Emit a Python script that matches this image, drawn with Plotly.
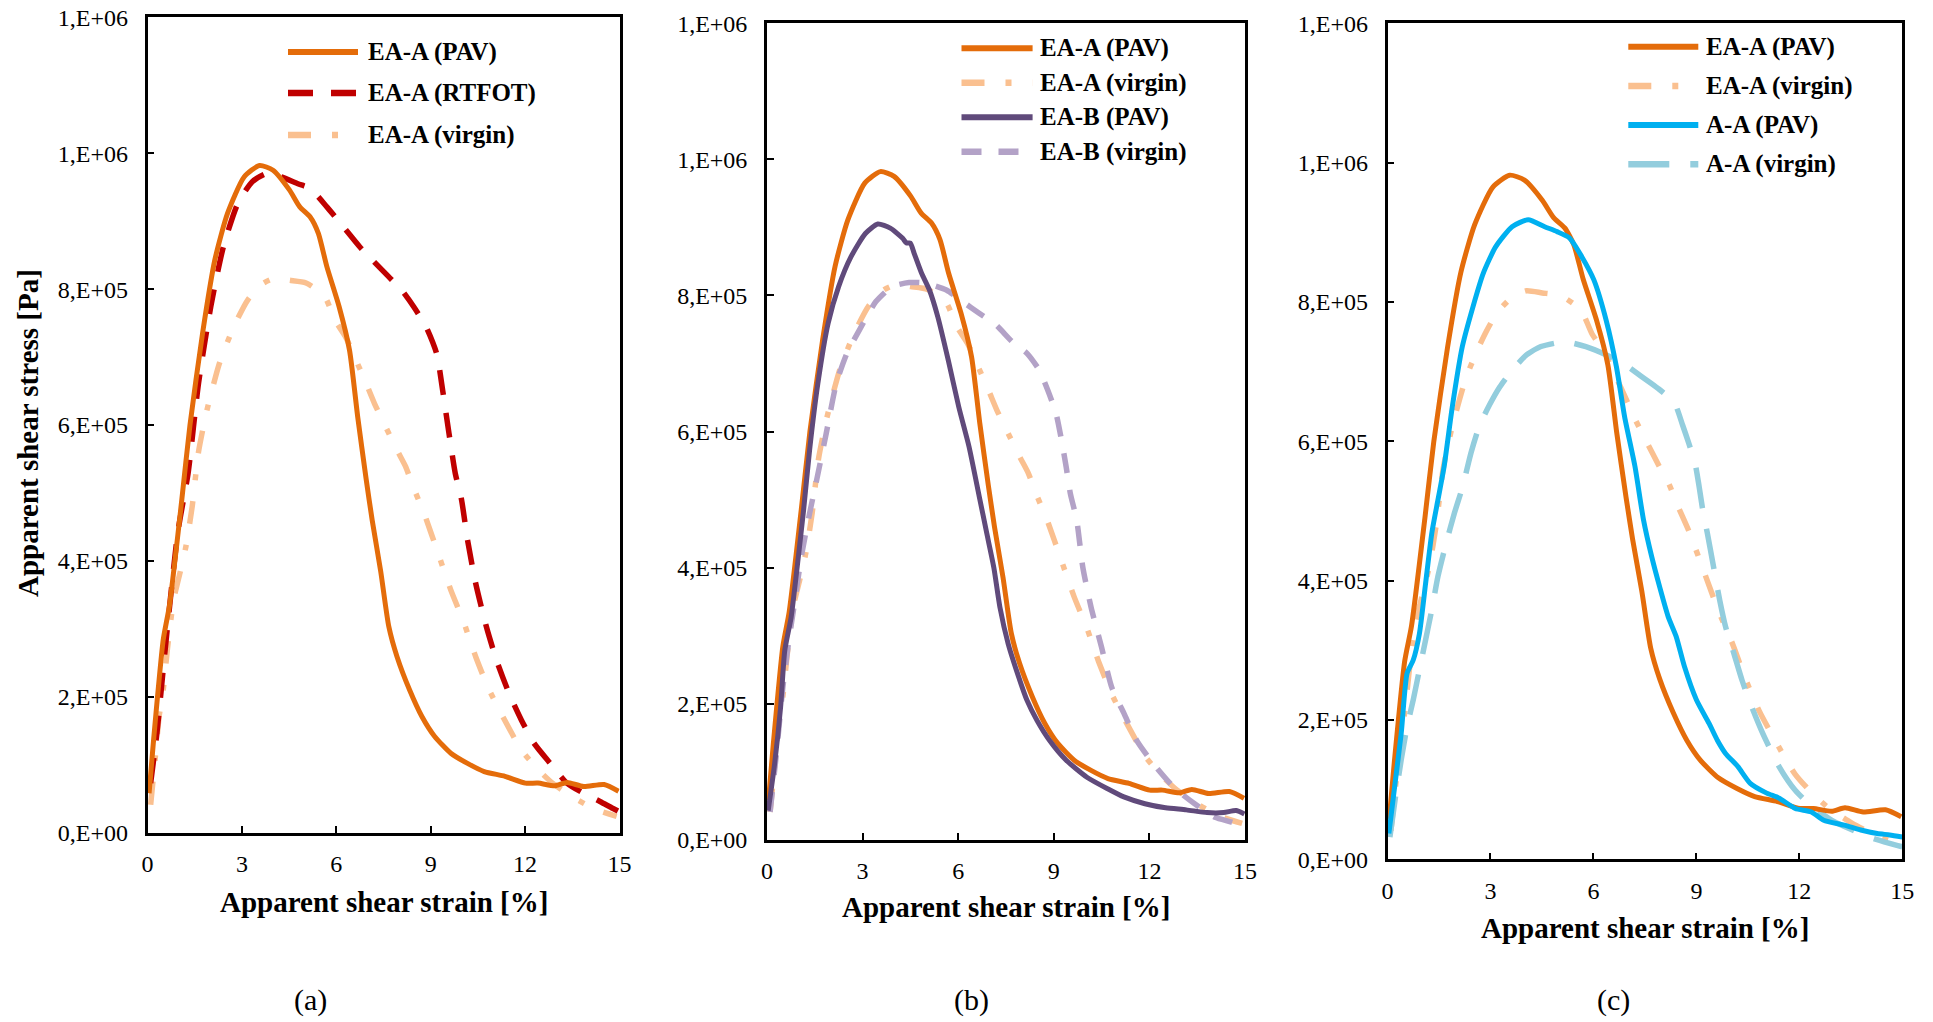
import plotly.graph_objects as go

# ---------------- data ----------------
strain_eaa_pav = [0.05, 0.2, 0.5, 0.7, 1.09, 1.35, 1.75, 2.14, 2.54, 3.07, 3.56, 3.99, 4.51, 4.84,
                  5.17, 5.43, 5.70, 6.09, 6.42, 6.68, 6.95, 7.14, 7.41, 7.67, 7.93, 8.33, 8.72,
                  9.12, 9.64, 10.17, 10.7, 11.36, 12.01, 12.41, 12.94, 13.33, 13.86, 14.51, 14.97]
stress_eaa_pav = [58e3, 140e3, 284e3, 335e3, 490e3, 600e3, 735e3, 843e3, 911e3, 965e3, 982e3,
                  975e3, 946e3, 921e3, 906e3, 882e3, 833e3, 774e3, 710e3, 612e3, 520e3, 460e3,
                  385e3, 303e3, 259e3, 210e3, 171e3, 142e3, 117e3, 102e3, 90e3, 83e3, 73e3,
                  73e3, 69e3, 74e3, 68e3, 71e3, 61e3]

strain_eaa_rtfot = [0.1, 0.3, 0.56, 0.96, 1.29, 1.62, 2.01, 2.41, 2.87, 3.33, 3.79, 4.25, 4.78,
                    5.17, 5.70, 6.22, 6.75, 7.14, 7.67, 8.07, 8.46, 8.85, 9.19, 9.38, 9.58, 9.78,
                    9.98, 10.17, 10.43, 10.77, 11.09, 11.49, 11.88, 12.28, 12.8, 13.33, 13.86,
                    14.38, 14.78, 14.95]
stress_eaa_rtfot = [73e3, 147e3, 269e3, 441e3, 529e3, 661e3, 774e3, 862e3, 926e3, 958e3, 970e3,
                    965e3, 955e3, 948e3, 921e3, 892e3, 862e3, 843e3, 818e3, 799e3, 774e3, 745e3,
                    705e3, 651e3, 588e3, 529e3, 490e3, 431e3, 367e3, 303e3, 254e3, 205e3, 166e3,
                    132e3, 102e3, 73e3, 58e3, 46e3, 36e3, 32e3]

strain_eaa_virgin = [0.1, 0.24, 0.37, 0.5, 0.63, 0.83, 1.03, 1.22, 1.42, 1.62, 1.88, 2.28, 2.61,
                     2.87, 3.2, 3.66, 4.05, 4.51, 5.04, 5.63, 5.96, 6.29, 6.62, 6.95, 7.21, 7.54,
                     7.93, 8.2, 8.46, 8.79, 9.25, 9.64, 10.04, 10.43, 10.83, 11.29, 11.88, 12.41,
                     12.87, 13.53, 14.25, 14.91]
stress_eaa_virgin = [41e3, 107e3, 171e3, 210e3, 269e3, 343e3, 382e3, 421e3, 480e3, 560e3, 620e3,
                     690e3, 730e3, 757e3, 785e3, 808e3, 816e3, 813e3, 809e3, 789e3, 754e3, 730e3,
                     696e3, 661e3, 632e3, 600e3, 563e3, 539e3, 507e3, 470e3, 409e3, 357e3, 311e3,
                     259e3, 213e3, 171e3, 122e3, 93e3, 73e3, 52e3, 34e3, 24e3]

strain_eab_pav = [0.04, 0.23, 0.43, 0.56, 0.76, 0.95, 1.15, 1.34, 1.6, 1.92, 2.25, 2.64, 3.09,
                  3.48, 3.87, 4.26, 4.38, 4.5, 4.62, 4.85, 5.1, 5.36, 5.69, 6.02, 6.34, 6.66,
                  6.9, 7.12, 7.31, 7.57, 7.83, 8.16, 8.48, 8.87, 9.39, 10.04, 10.69, 11.2, 11.86,
                  12.51, 13.16, 13.81, 14.33, 14.72, 14.98]
stress_eab_pav = [43e3, 107e3, 195e3, 278e3, 327e3, 401e3, 484e3, 573e3, 671e3, 759e3, 813e3,
                  857e3, 891e3, 905e3, 899e3, 884e3, 877e3, 877e3, 862e3, 833e3, 808e3, 769e3,
                  705e3, 636e3, 578e3, 505e3, 450e3, 400e3, 342e3, 288e3, 249e3, 205e3, 175e3,
                  146e3, 117e3, 92e3, 75e3, 63e3, 53e3, 47e3, 44e3, 40e3, 40e3, 43e3, 38e3]

strain_eab_virgin = [0.1, 0.3, 0.5, 0.69, 0.88, 1.08, 1.34, 1.54, 1.86, 2.18, 2.51, 2.9, 3.42,
                     3.93, 4.46, 4.98, 5.63, 6.14, 6.66, 7.18, 7.7, 8.16, 8.55, 8.81, 9.07, 9.26,
                     9.39, 9.52, 9.72, 9.91, 10.17, 10.5, 10.82, 11.21, 11.6, 12.12, 12.77, 13.42,
                     14.06, 14.58, 14.98]
stress_eab_virgin = [41e3, 127e3, 224e3, 293e3, 352e3, 416e3, 480e3, 524e3, 597e3, 671e3, 715e3,
                     749e3, 791e3, 813e3, 819e3, 818e3, 808e3, 791e3, 774e3, 757e3, 732e3, 715e3,
                     690e3, 661e3, 627e3, 583e3, 548e3, 509e3, 470e3, 401e3, 342e3, 283e3, 224e3,
                     185e3, 146e3, 112e3, 77e3, 53e3, 33e3, 26e3, 19e3]

strain_aa_pav = [0.04, 0.22, 0.4, 0.57, 0.75, 0.93, 1.11, 1.29, 1.47, 1.65, 1.89, 2.18, 2.49,
                 2.79, 3.15, 3.63, 4.1, 4.58, 4.94, 5.3, 5.66, 6.01, 6.37, 6.67, 6.91, 7.21, 7.46,
                 7.7, 7.93, 8.18, 8.41, 8.65, 9.0, 9.37, 9.61, 9.85, 10.21, 10.57, 11.05, 11.4,
                 11.88, 12.35, 12.71, 13.31, 13.79, 14.27, 14.63, 15.0]
stress_aa_pav = [37e3, 109e3, 181e3, 267e3, 286e3, 324e3, 396e3, 468e3, 516e3, 564e3, 650e3,
                 736e3, 793e3, 841e3, 879e3, 908e3, 918e3, 908e3, 901e3, 892e3, 865e3, 832e3,
                 774e3, 707e3, 635e3, 564e3, 487e3, 434e3, 391e3, 348e3, 320e3, 277e3, 229e3,
                 195e3, 171e3, 152e3, 133e3, 109e3, 95e3, 88e3, 73e3, 68e3, 56e3, 49e3, 42e3,
                 37e3, 35e3, 32e3]

strain_aa_virgin = [0.07, 0.22, 0.4, 0.57, 0.75, 0.93, 1.11, 1.29, 1.47, 1.71, 1.95, 2.19, 2.43,
                    2.67, 2.97, 3.27, 3.63, 4.05, 4.47, 4.89, 5.18, 5.78, 6.38, 6.86, 7.4, 7.88,
                    8.36, 8.6, 8.78, 8.96, 9.08, 9.2, 9.32, 9.5, 9.68, 9.85, 10.09, 10.33, 10.57,
                    10.93, 11.41, 11.88, 12.36, 12.95, 13.55, 14.16, 14.63, 15.0]
stress_aa_virgin = [32e3, 85e3, 143e3, 190e3, 229e3, 272e3, 315e3, 358e3, 406e3, 454e3, 497e3,
                    535e3, 583e3, 621e3, 652e3, 678e3, 702e3, 724e3, 736e3, 741e3, 743e3, 736e3,
                    724e3, 712e3, 693e3, 676e3, 655e3, 623e3, 597e3, 569e3, 535e3, 497e3, 468e3,
                    420e3, 372e3, 334e3, 296e3, 257e3, 224e3, 181e3, 133e3, 99e3, 76e3, 56e3,
                    42e3, 30e3, 23e3, 18e3]

x_tick_values = [0, 3, 6, 9, 12, 15]
y_tick_values = [0, 2e5, 4e5, 6e5, 8e5, 1.0e6, 1.2e6]
y_tick_labels = ["0,E+00", "2,E+05", "4,E+05", "6,E+05", "8,E+05", "1,E+06", "1,E+06"]

x_title = "Apparent shear strain [%]"
y_title = "Apparent shear stress [Pa]"
panel_labels = ["(a)", "(b)", "(c)"]

# ---------------- styles ----------------
W, H = 1933, 1022   # reference canvas, used only to express positions as paper fractions
FONT = "Liberation Serif, Times New Roman, serif"

STY = {
    "EA-A (PAV)":    dict(color="#E46C0A", dash="solid", width=5),
    "EA-A (RTFOT)":  dict(color="#C00000", dash="25px,18px", width=5.5),
    "EA-A (virgin)": dict(color="#FAC090", dash="23px,21px,6px,21px", width=5.5),
    "EA-B (PAV)":    dict(color="#604A7B", dash="solid", width=5),
    "EA-B (virgin)": dict(color="#B3A2C7", dash="20px,17px", width=5.5),
    "A-A (PAV)":     dict(color="#00B0F0", dash="solid", width=5),
    "A-A (virgin)":  dict(color="#93CDDD", dash="41px,21px", width=5.5),
}

panels = [
    dict(series=[("EA-A (PAV)", strain_eaa_pav, stress_eaa_pav),
                 ("EA-A (RTFOT)", strain_eaa_rtfot, stress_eaa_rtfot),
                 ("EA-A (virgin)", strain_eaa_virgin, stress_eaa_virgin)],
         box=(147.5, 619.5, 17.3, 832.7), legend=(288, 358, 366, [52, 93, 135]),
         xtitle_y=902, label_x=310),
    dict(series=[("EA-A (PAV)", strain_eaa_pav, stress_eaa_pav),
                 ("EA-A (virgin)", strain_eaa_virgin, stress_eaa_virgin),
                 ("EA-B (PAV)", strain_eab_pav, stress_eab_pav),
                 ("EA-B (virgin)", strain_eab_virgin, stress_eab_virgin)],
         box=(766.9, 1245.0, 23.3, 839.8), legend=(961.5, 1032.6, 1038, [48.3, 82.7, 117.3, 151.7]),
         xtitle_y=907, label_x=971.5),
    dict(series=[("EA-A (PAV)", strain_eaa_pav, stress_eaa_pav),
                 ("EA-A (virgin)", strain_eaa_virgin, stress_eaa_virgin),
                 ("A-A (PAV)", strain_aa_pav, stress_aa_pav),
                 ("A-A (virgin)", strain_aa_virgin, stress_aa_virgin)],
         box=(1387.5, 1902.3, 23.3, 859.3), legend=(1628.3, 1698.3, 1704, [46.7, 86, 125, 164.3]),
         xtitle_y=928, label_x=1613),
]

fig = go.Figure()
shapes, annotations = [], []

def px_x(v):
    return v / W

def px_y(v):
    return 1 - v / H

for i, p in enumerate(panels):
    n = "" if i == 0 else str(i + 1)
    xa, ya = "x" + n, "y" + n
    order = sorted(p["series"], key=lambda s: 0 if "virgin" in s[0] else (1 if "RTFOT" in s[0] else 2))
    for name, xs, ys in order:
        st = STY[name]
        fig.add_trace(go.Scatter(
            x=xs, y=ys, mode="lines", name=name, showlegend=False,
            line=dict(color=st["color"], dash=st["dash"], width=st["width"], shape="spline", smoothing=0.6),
            xaxis=xa, yaxis=ya, hoverinfo="skip"))
    l, r, t, b = p["box"]
    common = dict(showline=True, linecolor="black", linewidth=2.5, mirror=True,
                  ticks="inside", ticklen=7, tickwidth=2, tickcolor="black",
                  showgrid=False, zeroline=False, automargin=False,
                  tickfont=dict(family=FONT, size=24, color="black"))
    fig.layout["xaxis" + n] = dict(domain=[px_x(l), px_x(r)], range=[0, 15], tickmode="array",
                                   tickvals=x_tick_values, anchor=ya, ticklabelstandoff=8, **common)
    fig.layout["yaxis" + n] = dict(domain=[px_y(b), px_y(t)], range=[0, 1.2e6], tickmode="array",
                                   tickvals=y_tick_values, ticktext=y_tick_labels, anchor=xa,
                                   ticklabelstandoff=12, **common)
    lx0, lx1, tx, rows = p["legend"]
    for (name, _, _), ry in zip(p["series"], rows):
        st = STY[name]
        shapes.append(dict(type="line", xref="paper", yref="paper",
                           x0=px_x(lx0), x1=px_x(lx1), y0=px_y(ry), y1=px_y(ry),
                           line=dict(color=st["color"], dash=st["dash"], width=st["width"] + 1)))
        annotations.append(dict(xref="paper", yref="paper", x=px_x(tx), y=px_y(ry),
                                xanchor="left", yanchor="middle", showarrow=False,
                                text="<b>" + name + "</b>",
                                font=dict(family=FONT, size=25, color="black")))
    annotations.append(dict(xref="paper", yref="paper", x=px_x((l + r) / 2), y=px_y(p["xtitle_y"]),
                            xanchor="center", yanchor="middle", showarrow=False,
                            text="<b>" + x_title + "</b>",
                            font=dict(family=FONT, size=29, color="black")))
    annotations.append(dict(xref="paper", yref="paper", x=px_x(p["label_x"]), y=px_y(1000),
                            xanchor="center", yanchor="middle", showarrow=False,
                            text=panel_labels[i],
                            font=dict(family=FONT, size=30, color="black")))

annotations.append(dict(xref="paper", yref="paper", x=px_x(28), y=px_y(433),
                        xanchor="center", yanchor="middle", showarrow=False, textangle=-90,
                        text="<b>" + y_title + "</b>",
                        font=dict(family=FONT, size=29, color="black")))

fig.update_layout(autosize=True, margin=dict(l=0, r=0, t=0, b=0, pad=0),
                  paper_bgcolor="white", plot_bgcolor="white",
                  shapes=shapes, annotations=annotations, showlegend=False,
                  font=dict(family=FONT, color="black"))

post = ("document.documentElement.style.margin='0';document.documentElement.style.padding='0';"
        "document.body.style.margin='0';document.body.style.padding='0';"
        "document.body.style.overflow='hidden';"
        "var gd=document.getElementById('{plot_id}');if(gd){Plotly.Plots.resize(gd);}")

fig.write_html("out.html", default_width="100vw", default_height="100vh",
               config={"displayModeBar": False, "responsive": True},
               post_script=post)
